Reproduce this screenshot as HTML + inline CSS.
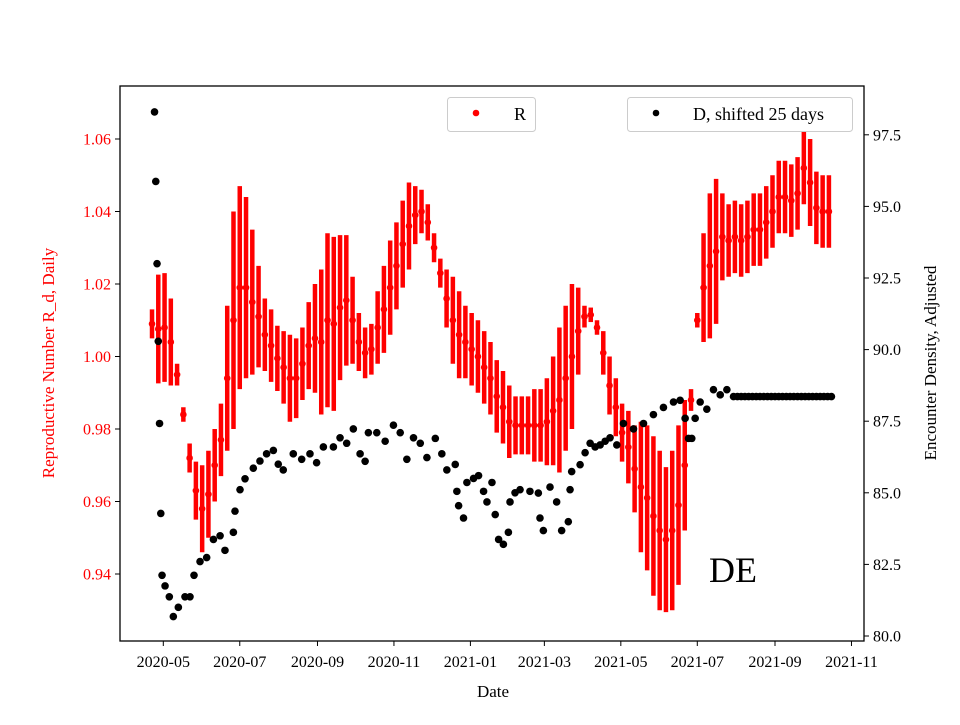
<!DOCTYPE html>
<html><head><meta charset="utf-8"><style>
body{margin:0;background:#fff}
svg text{font-family:"Liberation Serif",serif}
</style></head><body>
<svg id="c" width="960" height="720" viewBox="0 0 960 720" xmlns="http://www.w3.org/2000/svg"></svg>
<script>
// day offsets are days since 2020-05-01
const rStart = -9, rStep = 5;
const rVal = [1.009,1.0076,1.008,1.004,0.995,0.984,0.972,0.963,0.958,0.962,0.970,0.977,0.994,1.010,1.019,1.019,1.015,1.011,1.006,1.003,0.9995,0.997,0.994,0.994,0.998,1.003,1.005,1.004,1.010,1.009,1.0135,1.0155,1.010,1.004,1.001,1.002,1.008,1.013,1.019,1.025,1.031,1.036,1.039,1.040,1.037,1.030,1.023,1.016,1.010,1.006,1.004,1.002,1.000,0.997,0.994,0.989,0.986,0.982,0.981,0.981,0.981,0.981,0.981,0.982,0.985,0.988,0.994,1.000,1.007,1.011,1.0115,1.008,1.001,0.992,0.986,0.979,0.975,0.969,0.964,0.961,0.956,0.952,0.9495,0.952,0.959,0.970,0.988,1.010,1.019,1.025,1.029,1.033,1.032,1.033,1.032,1.033,1.035,1.035,1.037,1.040,1.044,1.044,1.043,1.045,1.052,1.048,1.041,1.040,1.040];
const rErr = [0.004,0.015,0.015,0.012,0.003,0.002,0.004,0.008,0.012,0.012,0.010,0.010,0.020,0.030,0.028,0.025,0.020,0.014,0.010,0.010,0.009,0.010,0.012,0.011,0.010,0.012,0.015,0.020,0.024,0.024,0.020,0.018,0.012,0.008,0.007,0.007,0.010,0.012,0.013,0.012,0.012,0.012,0.008,0.006,0.005,0.004,0.004,0.008,0.012,0.012,0.010,0.010,0.010,0.010,0.010,0.010,0.010,0.010,0.008,0.008,0.008,0.010,0.010,0.012,0.015,0.020,0.020,0.020,0.012,0.003,0.002,0.002,0.006,0.008,0.008,0.008,0.010,0.012,0.018,0.020,0.022,0.022,0.020,0.022,0.022,0.018,0.003,0.002,0.015,0.020,0.020,0.012,0.010,0.010,0.010,0.010,0.010,0.010,0.010,0.010,0.010,0.010,0.010,0.010,0.010,0.012,0.010,0.010,0.010];
const dDays = [-7,-6,-5,-4,-3,-2,-1,1.4,4.8,8,12,17.3,21.3,24.5,29.3,34.6,40,45.3,49.2,55.9,57.2,61.2,65.2,71.8,77.1,82.4,87.8,91.7,95.7,103.7,110.4,117,122.3,127.7,135.7,141,146.3,151.6,157,161,163.6,170.3,177,183.6,189,194.3,199.6,205,210.3,217,222.2,226.2,232.9,234.2,235.6,239.5,242.2,247.5,251.5,255.5,258.2,262.2,264.8,267.5,271.3,275.3,276.6,280.6,284.6,292.5,299.2,300.5,303.2,308.5,313.8,317.8,323.1,324.5,325.8,332.5,336.5,340.5,344.5,348.5,352.5,356.4,361.8,367.1,375.1,383.1,391,399,407,412.3,416.3,419,421.6,424.3,428.3,433.6,438.9,444.3,449.6,454.9,458,461,464,467,470,473,476,479,482,485,488,491,494,497,500,503,506,509,512,515,518,521,524,527,530,533];
const dVal = [98.3,95.87,93.0,90.29,87.42,84.28,82.12,81.75,81.37,80.68,81.0,81.37,81.37,82.12,82.6,82.74,83.37,83.5,82.99,83.62,84.36,85.11,85.49,85.86,86.11,86.36,86.48,86.0,85.8,86.36,86.17,86.36,86.05,86.6,86.6,86.92,86.73,87.23,86.36,86.1,87.1,87.1,86.8,87.36,87.1,86.17,86.92,86.73,86.23,86.9,86.36,85.8,85.99,85.05,84.55,84.12,85.36,85.5,85.6,85.05,84.68,85.36,84.24,83.37,83.2,83.62,84.68,85.0,85.11,85.05,84.99,84.12,83.68,85.2,84.68,83.68,83.99,85.11,85.74,85.98,86.4,86.73,86.6,86.67,86.8,86.92,86.67,87.42,87.23,87.42,87.73,87.98,88.17,88.23,87.6,86.9,86.9,87.6,88.17,87.92,88.6,88.42,88.6,88.36,88.36,88.36,88.36,88.36,88.36,88.36,88.36,88.36,88.36,88.36,88.36,88.36,88.36,88.36,88.36,88.36,88.36,88.36,88.36,88.36,88.36,88.36,88.36,88.36,88.36,88.36];
const leftTicks = [0.94,0.96,0.98,1.00,1.02,1.04,1.06];
const rightTicks = [80.0,82.5,85.0,87.5,90.0,92.5,95.0,97.5];
const xTickLabels = ["2020-05","2020-07","2020-09","2020-11","2021-01","2021-03","2021-05","2021-07","2021-09","2021-11"];
const xTickDays = [0,61,123,184,245,304,365,426,488,549];

const NS="http://www.w3.org/2000/svg";
const svg=document.getElementById('c');
function el(t,a,p){const e=document.createElementNS(NS,t);for(const k in a)e.setAttribute(k,a[k]);(p||svg).appendChild(e);return e;}
const X0=120,X1=864,Y0=86,Y1=641;
const xs=d=>163.3+d*1.2535;
const yl=v=>356.5-(v-1)*3625;
const yr=v=>636-(v-80)*71.6/2.5;

const gR=el('g',{});


rVal.forEach((v,i)=>{
  const x=xs(rStart+i*rStep);
  const b=el('line',{x1:x,x2:x,y1:yl(v-rErr[i]),y2:yl(v+rErr[i]),stroke:'#f00','stroke-width':4.5},gR);
  
  
  const c=el('circle',{cx:x,cy:yl(v),r:3.3,fill:'#f00'},gR);
  
  
});
const gD=el('g',{});


dVal.forEach((v,i)=>{
  const c=el('circle',{cx:xs(dDays[i]),cy:yr(v),r:3.8,fill:'#000'},gD);
  
  
});

const frame=el('rect',{x:X0,y:Y0,width:X1-X0,height:Y1-Y0,fill:'none',stroke:'#000','stroke-width':1.3});



leftTicks.forEach(v=>{
  const y=yl(v);
  el('line',{x1:X0-5,x2:X0,y1:y,y2:y,stroke:'#000'});
  const t=el('text',{x:X0-9,y:y+5.5,'text-anchor':'end','font-size':16,fill:'#f00'});
  t.textContent=v.toFixed(2);
  
  
});
rightTicks.forEach(v=>{
  const y=yr(v);
  el('line',{x1:X1,x2:X1+5,y1:y,y2:y,stroke:'#000'});
  const t=el('text',{x:X1+9,y:y+5.5,'font-size':16,fill:'#000'});
  t.textContent=v.toFixed(1);
  
  
});
xTickDays.forEach((d,i)=>{
  const x=xs(d);
  el('line',{x1:x,x2:x,y1:Y1,y2:Y1+5,stroke:'#000'});
  const t=el('text',{x:x,y:Y1+26,'text-anchor':'middle','font-size':16});
  t.textContent=xTickLabels[i];
  
  
});
</script>
<svg style="position:absolute;left:0;top:0" width="960" height="720" xmlns="http://www.w3.org/2000/svg">
  <text x="493" y="697" text-anchor="middle" font-size="17" font-family="Liberation Serif,serif">Date</text>
  <text transform="translate(54,363) rotate(-90)" text-anchor="middle" font-size="17" fill="#f00" font-family="Liberation Serif,serif">Reproductive Number R_d, Daily</text>
  <text transform="translate(936,363) rotate(-90)" text-anchor="middle" font-size="17" font-family="Liberation Serif,serif">Encounter Density, Adjusted</text>
  <text x="709" y="582" font-size="36" font-family="Liberation Serif,serif">DE</text>
  <g>
    <rect x="447.5" y="97.5" width="88" height="34" rx="3" fill="#fff" fill-opacity="0.8" stroke="#ccc"/>
    <circle cx="476" cy="113" r="3.3" fill="#f00"/>
    <text x="514" y="120" font-size="18" font-family="Liberation Serif,serif">R</text>
  </g>
  <g>
    <rect x="627.5" y="97.5" width="225" height="34" rx="3" fill="#fff" fill-opacity="0.8" stroke="#ccc"/>
    <circle cx="656" cy="113" r="3.3" fill="#000"/>
    <text x="693" y="120" font-size="18" font-family="Liberation Serif,serif">D, shifted 25 days</text>
  </g>
</svg>
</body></html>
